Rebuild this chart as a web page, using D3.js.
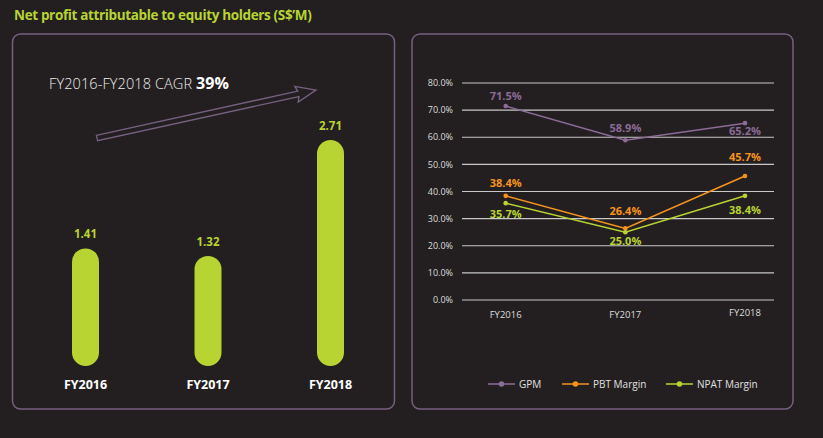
<!DOCTYPE html>
<html><head><meta charset="utf-8">
<script src="https://cdn.jsdelivr.net/npm/d3@7/dist/d3.min.js"></script>
<style>
html,body{margin:0;padding:0;background:#231f20;}
svg{display:block;}
</style></head>
<body>
<svg id="c" width="823" height="438"></svg>
<script>
// ---- data ----
const barCategories = ["FY2016","FY2017","FY2018"];
const netProfit = [1.41, 1.32, 2.71];
const lineCategories = ["FY2016","FY2017","FY2018"];
const gpm = [71.5, 58.9, 65.2];
const pbtMargin = [38.4, 26.4, 45.7];
const npatMargin = [35.7, 25.0, 38.4];
const yTicks = [0,10,20,30,40,50,60,70,80];
const seriesNames = ["GPM","PBT Margin","NPAT Margin"];

const GREEN = "#b7d433", ORANGE = "#f7941d", PURPLE = "#8c6b97", FRAME = "#76607f";
const FONT = "'Open Sans', 'Noto Sans', sans-serif";

const svg = d3.select("#c");
svg.append("rect").attr("width",823).attr("height",438).attr("fill","#231f20");

// title
svg.append("text").attr("x",14).attr("y",20)
  .attr("font-family",FONT).attr("font-weight",700).attr("font-size",13.5)
  .attr("fill",GREEN).attr("letter-spacing",-0.35)
  .text("Net profit attributable to equity holders (S$\u2019M)");

// frames
svg.append("rect").attr("x",12.5).attr("y",34).attr("width",382).attr("height",375)
  .attr("rx",8).attr("fill","none").attr("stroke",FRAME).attr("stroke-width",1.5);
svg.append("rect").attr("x",412).attr("y",34).attr("width",381).attr("height",375)
  .attr("rx",8).attr("fill","none").attr("stroke",FRAME).attr("stroke-width",1.5);

// ---- bar chart ----
const bx = d3.scalePoint().domain(barCategories).range([85.5,330.5]);
const by = d3.scaleLinear().domain([0, 2.71]).range([366, 140]);
const bw = 27;
const bars = svg.append("g");
bars.selectAll("rect").data(netProfit).join("rect")
  .attr("x",(d,i)=>bx(barCategories[i])-bw/2)
  .attr("y",d=>by(d))
  .attr("width",bw)
  .attr("height",d=>by(0)-by(d))
  .attr("rx",bw/2)
  .attr("fill",GREEN);
bars.selectAll("text.v").data(netProfit).join("text").attr("class","v")
  .attr("x",(d,i)=>bx(barCategories[i]))
  .attr("y",d=>by(d)-10)
  .attr("text-anchor","middle")
  .attr("font-family",FONT).attr("font-weight",700).attr("font-size",11.5)
  .attr("fill",GREEN)
  .text(d=>d3.format(".2f")(d));
bars.selectAll("text.c").data(barCategories).join("text").attr("class","c")
  .attr("x",d=>bx(d)).attr("y",389)
  .attr("text-anchor","middle")
  .attr("font-family",FONT).attr("font-weight",700).attr("font-size",12.5)
  .attr("fill","#ffffff")
  .text(d=>d);

// CAGR text
const ct = svg.append("text").attr("x",49).attr("y",89)
  .attr("font-family",FONT).attr("font-size",14.5).attr("fill","#eeeeee").attr("letter-spacing",0.1);
ct.append("tspan").attr("font-weight",300).text("FY2016-FY2018 CAGR ");
ct.append("tspan").attr("font-weight",700).attr("font-size",16).attr("fill","#ffffff").text("39%");

// arrow (outline)
(function(){
  const x0=97, y0=138, x1=316, y1=90;
  const L=Math.hypot(x1-x0,y1-y0), ang=Math.atan2(y1-y0,x1-x0)*180/Math.PI;
  const sw=2.8, hl=18, hw=8;
  const pts=[[0,-sw],[L-hl,-sw],[L-hl-2,-hw],[L,0],[L-hl-2,hw],[L-hl,sw],[0,sw]];
  svg.append("polygon")
    .attr("points",pts.map(p=>p.join(",")).join(" "))
    .attr("transform",`translate(${x0},${y0}) rotate(${ang})`)
    .attr("fill","none").attr("stroke",FRAME).attr("stroke-width",1.3);
})();

// ---- line chart ----
const lx = d3.scalePoint().domain(lineCategories).range([505.7,745]);
const ly = d3.scaleLinear().domain([0,80]).range([300,83]);
const lg = svg.append("g");
lg.selectAll("line.g").data(yTicks).join("line").attr("class","g")
  .attr("x1",462).attr("x2",774)
  .attr("y1",d=>ly(d)).attr("y2",d=>ly(d))
  .attr("stroke","#c8c8c8").attr("stroke-width",1.2);
lg.selectAll("text.yt").data(yTicks).join("text").attr("class","yt")
  .attr("x",453).attr("y",d=>ly(d)+3.2)
  .attr("text-anchor","end")
  .attr("font-family",FONT).attr("font-size",9).attr("fill","#dddddd")
  .text(d=>d3.format(".1f")(d)+"%");
lg.selectAll("text.xt").data(lineCategories).join("text").attr("class","xt")
  .attr("x",d=>lx(d)).attr("y",(d,i)=>i===2?316:318)
  .attr("text-anchor","middle")
  .attr("font-family",FONT).attr("font-size",9.5).attr("fill","#dddddd")
  .text(d=>d);

const series = [
  {name:seriesNames[0], values:gpm, color:PURPLE, dy:[-6,-8,12]},
  {name:seriesNames[1], values:pbtMargin, color:ORANGE, dy:[-9,-13,-15]},
  {name:seriesNames[2], values:npatMargin, color:GREEN, dy:[15,13,18]}
];
const line = d3.line().x((d,i)=>lx(lineCategories[i])).y(d=>ly(d));
series.forEach(s=>{
  const g = lg.append("g");
  g.append("path").datum(s.values).attr("d",line)
    .attr("fill","none").attr("stroke",s.color).attr("stroke-width",1.5);
  g.selectAll("circle").data(s.values).join("circle")
    .attr("cx",(d,i)=>lx(lineCategories[i])).attr("cy",d=>ly(d)).attr("r",2.3)
    .attr("fill",s.color);
  g.selectAll("text").data(s.values).join("text")
    .attr("x",(d,i)=>lx(lineCategories[i])).attr("y",(d,i)=>ly(d)+s.dy[i])
    .attr("text-anchor","middle")
    .attr("font-family",FONT).attr("font-weight",700).attr("font-size",11)
    .attr("fill",s.color)
    .text(d=>d3.format(".1f")(d)+"%");
});

// legend
const legX = [488, 562, 666];
const leg = svg.append("g");
series.forEach((s,i)=>{
  const x=legX[i], y=384;
  leg.append("line").attr("x1",x).attr("x2",x+27).attr("y1",y).attr("y2",y)
    .attr("stroke",s.color).attr("stroke-width",1.5);
  leg.append("circle").attr("cx",x+13.5).attr("cy",y).attr("r",2.8).attr("fill",s.color);
  leg.append("text").attr("x",x+31).attr("y",y+3.5)
    .attr("font-family",FONT).attr("font-size",10).attr("fill","#e0e0e0")
    .text(s.name);
});
</script>
</body></html>
